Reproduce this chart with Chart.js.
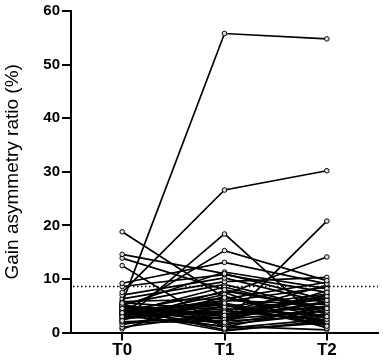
<!DOCTYPE html>
<html>
<head>
<meta charset="utf-8">
<script src="https://cdn.jsdelivr.net/npm/chart.js@4"></script>
<style>
  html, body { margin: 0; padding: 0; background: #fff; }
  #wrap { width: 383px; height: 361px; }
</style>
</head>
<body>
<div id="wrap"><canvas id="gainChart"></canvas></div>
<script>
// Gain asymmetry ratio per subject at three timepoints

const timepoints = ['T0', 'T1', 'T2'];
const yTicks = [0, 10, 20, 30, 40, 50, 60];
const cutoff = 8.6;

// one entry per subject, same order in each array
const t0Values = [5.5, 7.5, 2.2, 3.7, 9.2, 18.8, 14.6, 13.9, 12.5, 8.6, 4.5, 3.0, 7.0, 6.3, 5.0,
    4.8, 4.2, 3.9, 3.5, 5.2, 4.0, 3.3, 2.8, 4.6, 5.6, 3.6, 2.0, 1.5, 1.0, 0.7,
    4.4, 5.3, 3.1, 2.5, 4.1, 3.8, 4.9, 2.3, 4.3, 3.4, 1.8, 5.8,
    3.2, 4.7, 2.6, 5.1, 3.7, 4.0];
const t1Values = [55.8, 26.6, 18.4, 15.3, 13.1, 6.5, 11.0, 8.0, 0.8, 10.8, 1.9, 7.1, 10.2, 9.5, 11.3,
    3.2, 5.5, 2.5, 4.8, 1.5, 7.5, 6.0, 3.8, 0.5, 4.2, 8.5, 2.8, 5.0, 3.5, 6.8,
    2.0, 9.0, 1.2, 4.5, 5.8, 0.3, 3.0, 7.8, 1.0, 5.2, 2.2, 6.3,
    4.0, 2.6, 6.5, 3.4, 1.7, 5.3];
const t2Values = [54.8, 30.2, 1.2, 9.7, 9.1, 3.0, 6.0, 4.5, 2.5, 7.5, 20.8, 14.1, 5.5, 10.3, 8.2,
    6.8, 2.0, 4.0, 7.2, 3.5, 0.8, 5.2, 8.8, 1.8, 6.2, 3.8, 5.8, 2.8, 4.8, 1.5,
    7.8, 4.2, 0.5, 3.2, 8.5, 2.2, 6.5, 4.4, 5.0, 1.0, 3.0, 9.4,
    2.4, 5.6, 3.6, 7.0, 4.6, 1.3];

const datasets = t0Values.map((v, i) => ({
    data: [v, t1Values[i], t2Values[i]],
    borderColor: '#000',
    borderWidth: 1.7,
    pointRadius: 2.3,
    pointBorderWidth: 1,
    pointBorderColor: '#000',
    pointBackgroundColor: '#dcdcdc',
    tension: 0
}));

// dotted reference line across the whole plot
const cutoffLine = {
    id: 'cutoffLine',
    beforeDatasetsDraw(chart) {
        const ctx = chart.ctx;
        const area = chart.chartArea;
        const y = chart.scales.y.getPixelForValue(cutoff);
        ctx.save();
        ctx.strokeStyle = '#000';
        ctx.lineWidth = 1.5;
        ctx.setLineDash([1.5, 2.5]);
        ctx.beginPath();
        ctx.moveTo(area.left + 2, y);
        ctx.lineTo(area.right, y);
        ctx.stroke();
        ctx.restore();
    }
};

new Chart(document.getElementById('gainChart'), {
    type: 'line',
    data: { labels: timepoints, datasets: datasets },
    plugins: [cutoffLine],
    options: {
        responsive: true,
        maintainAspectRatio: false,
        animation: false,
        layout: { padding: { top: 0, right: 3, left: 0, bottom: 0 } },
        plugins: { legend: { display: false }, tooltip: { enabled: false } },
        scales: {
            x: {
                type: 'category',
                offset: true,
                grid: {
                    offset: false,
                    drawOnChartArea: false,
                    drawTicks: true,
                    tickLength: 8,
                    color: '#000',
                    lineWidth: 2
                },
                border: { display: true, color: '#000', width: 2 },
                ticks: {
                    color: '#000',
                    padding: 0,
                    font: { family: 'Liberation Sans, Arial, sans-serif', size: 17, weight: 'bold' }
                }
            },
            y: {
                min: 0,
                max: 60,
                afterFit(scale) { scale.width = 71; },
                afterBuildTicks(scale) { scale.ticks = yTicks.map(v => ({ value: v })); },
                grid: {
                    drawOnChartArea: false,
                    drawTicks: true,
                    tickLength: 9,
                    color: '#000',
                    lineWidth: 2
                },
                border: { display: true, color: '#000', width: 2 },
                ticks: {
                    color: '#000',
                    padding: 2,
                    font: { family: 'Liberation Sans, Arial, sans-serif', size: 15, weight: 'bold' }
                },
                title: {
                    display: true,
                    text: 'Gain asymmetry ratio (%)',
                    color: '#000',
                    padding: { top: 1, bottom: 0 },
                    font: { family: 'Liberation Sans, Arial, sans-serif', size: 19 }
                }
            }
        }
    }
});
</script>
</body>
</html>
